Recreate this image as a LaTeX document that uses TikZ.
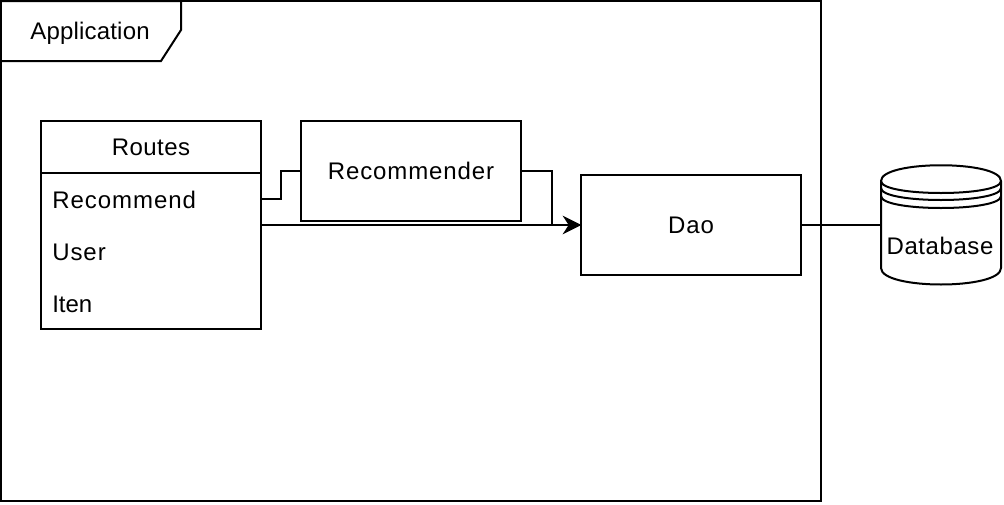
\documentclass[tikz,border=0pt]{standalone}
\usepackage{fontspec}
\setmainfont{Liberation Sans}
\usetikzlibrary{arrows.meta}
\tikzset{
  thick line/.style={line width=1.5pt, line join=miter},
  block/.style 2 args={draw, thick line, inner sep=0pt, minimum width=#1*0.75pt, minimum height=#2*0.75pt},
  caption/.style={font=\fontsize{18pt}{20pt}\selectfont\addfontfeature{LetterSpace=#1}, inner sep=0pt, text height=13pt, text depth=0pt},
  caption/.default=0,
  row/.style={caption=#1, anchor=base west},
  link/.style={thick line, shorten >=-1pt, -{Stealth[length=14pt, width=14pt, inset=4.5pt]}}
}

\begin{document}
\begin{tikzpicture}[x=0.75pt, y=-0.75pt]
                \useasboundingbox (0,0) rectangle (1004,504);
                \node[block={820}{500}] (Frame) at (411,251) {};
                \draw[thick line] (1,1) -- (181,1) -- (181,30) -- (161,61) -- (1,61);
                \node[caption=0.8] (App) at (90,31) {Application};
                \node[block={220}{52}, caption=1.7] (Routes) at (151,147) {Routes};
                \node[block={220}{156}] (Rows) at (151,251) {};
                \node[row=4] (Recommend) at (52,208) {Recommend};
                \node[row=4] (User) at (52,260) {User};
                \node[row=0] (Iten) at (52,312) {Iten};
                \node[block={220}{100}, caption=3.75] (Recommender) at (411,171) {Recommender};
                \node[block={220}{100}, caption=4] (Dao) at (691,225) {Dao};
                \node[caption, minimum width=90pt, minimum height=90pt] (Database) at (941,225) {};
                \node[caption=2.4] (DbText) at (940,246) {Database};
                \coordinate (RoutesOut) at (261,199);
                \coordinate (RowsOut) at (261,225);
                \coordinate (Join) at (552,225);
                \draw[thick line] (881,181) .. controls (881,160) and (1001,160) .. (1001,181)
                        -- (1001,268) .. controls (1001,290) and (881,290) .. (881,268) -- cycle;
                \draw[thick line] (881,181) .. controls (881,197) and (1001,197) .. (1001,181);
                \draw[thick line] (881,188) .. controls (881,204) and (1001,204) .. (1001,188);
                \draw[thick line] (881,196) .. controls (881,212) and (1001,212) .. (1001,196);
                \draw[thick line] (RoutesOut) -- ++(20,0) -- ++(0,-28) -- (Recommender.west);
                \draw[thick line] (Recommender.east) -- (552,171) -- (Join);
                \draw[link] (RowsOut) -- (Dao.west);
                \draw[thick line] (Dao.east) -- (Database.west);
\end{tikzpicture}
\end{document}
